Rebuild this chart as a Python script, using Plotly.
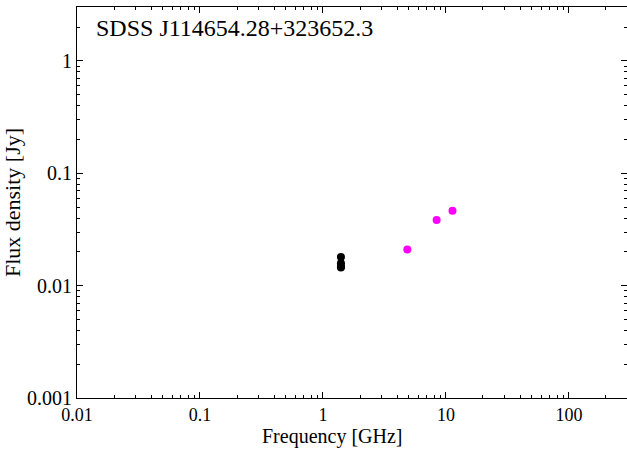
import plotly.graph_objects as go

# Radio spectrum of SDSS J114654.28+323652.3
freq_14 = [1.4, 1.4, 1.4, 1.4]            # GHz
flux_14 = [0.018, 0.0158, 0.0148, 0.0145]  # Jy

freq_hi = [4.85, 8.4, 11.3]                # GHz
flux_hi = [0.021, 0.0383, 0.0463]          # Jy

font_family = "Liberation Serif, Times New Roman, serif"

fig = go.Figure()
fig.add_trace(go.Scatter(x=freq_14, y=flux_14, mode="markers",
                         marker=dict(color="black", size=8), showlegend=False))
fig.add_trace(go.Scatter(x=freq_hi, y=flux_hi, mode="markers",
                         marker=dict(color="#ff00ff", size=8), showlegend=False))

axis_common = dict(
    type="log", showgrid=False, zeroline=False,
    showline=True, linecolor="black", linewidth=1, mirror="allticks",
    ticks="inside", ticklen=6, tickcolor="black", tickwidth=1,
    dtick=1,
    minor=dict(ticks="inside", ticklen=3, tickcolor="black", tickwidth=1,
               dtick="D1", showgrid=False),
    tickfont=dict(family=font_family, size=20, color="black"),
)

fig.update_xaxes(**axis_common, range=[-2, 2.472], ticklabelstandoff=0,
                 tickfont_size=18)
fig.update_yaxes(**axis_common, range=[-3, 0.48],
                 title=dict(text="Flux density [Jy]", standoff=8,
                            font=dict(family=font_family, size=22, color="black")))

# x-axis title placed just under the tick labels, bottom-anchored near the page edge
fig.add_annotation(text="Frequency [GHz]", xref="paper", yref="paper",
                   x=0.465, y=-0.13, xanchor="center", yanchor="bottom",
                   showarrow=False, borderpad=0,
                   font=dict(family=font_family, size=20, color="black"))

fig.add_annotation(text="SDSS J114654.28+323652.3", xref="paper", yref="paper",
                   x=0.03, y=0.985, xanchor="left", yanchor="top", showarrow=False,
                   font=dict(family=font_family, size=24, color="black"))

fig.update_layout(width=627, height=450,
                  margin=dict(l=77, r=0, t=7, b=52),
                  plot_bgcolor="white", paper_bgcolor="white")

fig.write_html("out.html")
